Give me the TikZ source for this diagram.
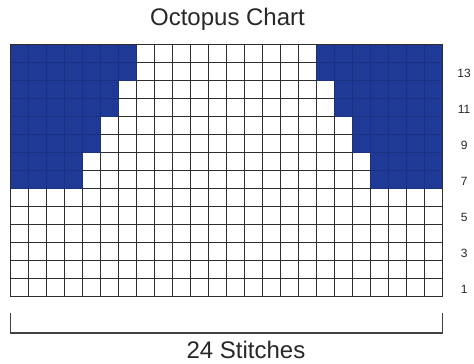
\documentclass[tikz,border=0pt]{standalone}
\usepackage{fontspec}
\setmainfont{Liberation Sans}
\definecolor{chartblue}{RGB}{30,58,150}
\definecolor{gridline}{RGB}{45,45,45}
\definecolor{textgray}{RGB}{40,40,40}
\tikzset{
  titletext/.style={font=\fontsize{24}{27}\selectfont, text=textgray, inner sep=0pt},
  rowlabel/.style={font=\fontsize{12}{14}\selectfont, text=textgray, inner sep=0pt},
  gridlines/.style={draw=gridline, line width=0.9pt},
  bluelines/.style={draw=chartblue!85!black, line width=0.6pt},
  bracketline/.style={draw=gridline!90, line width=1.4pt}
}
\begin{document}
\begin{tikzpicture}[x=1pt,y=-1pt]
\useasboundingbox (0,0) rectangle (474,364);
\fill[white] (0,0) rectangle (474,364);
\begin{scope}[shift={(10.5,44.5)}, x=18pt, y=-18pt]
  \foreach \i in {0,...,24} { \draw[gridlines] (\i,0) -- (\i,14); }
  \foreach \j in {0,...,14} { \draw[gridlines] (0,\j) -- (24,\j); }
  \fill[chartblue] (0,0) -- (7,0) -- (7,2) -- (6,2) -- (6,4) -- (5,4) -- (5,6) -- (4,6) -- (4,8) -- (0,8) -- cycle;
  \fill[chartblue] (24,0) -- (17,0) -- (17,2) -- (18,2) -- (18,4) -- (19,4) -- (19,6) -- (20,6) -- (20,8) -- (24,8) -- cycle;
  \begin{scope}
    \clip (0,0) -- (7,0) -- (7,2) -- (6,2) -- (6,4) -- (5,4) -- (5,6) -- (4,6) -- (4,8) -- (0,8) -- cycle
          (24,0) -- (17,0) -- (17,2) -- (18,2) -- (18,4) -- (19,4) -- (19,6) -- (20,6) -- (20,8) -- (24,8) -- cycle;
    \foreach \i in {0,...,24} { \draw[bluelines] (\i,0) -- (\i,8); }
    \foreach \j in {0,...,8} { \draw[bluelines] (0,\j) -- (24,\j); }
  \end{scope}
  \draw[gridlines] (0,0) rectangle (24,14);
  \foreach \r in {1,3,...,13} {
    \node[rowlabel] (row\r) at (25.2,{14-\r+0.5+0.12}) {\r};
  }
\end{scope}
\node[titletext] (title) at (227.5,19) {Octopus Chart};
\coordinate (bl) at (10.5,313);
\coordinate (blc) at (10.5,333);
\coordinate (brc) at (442.5,333);
\coordinate (br) at (442.5,313);
\draw[bracketline] (bl) -- (blc) -- (brc) -- (br);
\node[titletext] (stitches) at (246,350) {24 Stitches};
\end{tikzpicture}
\end{document}
